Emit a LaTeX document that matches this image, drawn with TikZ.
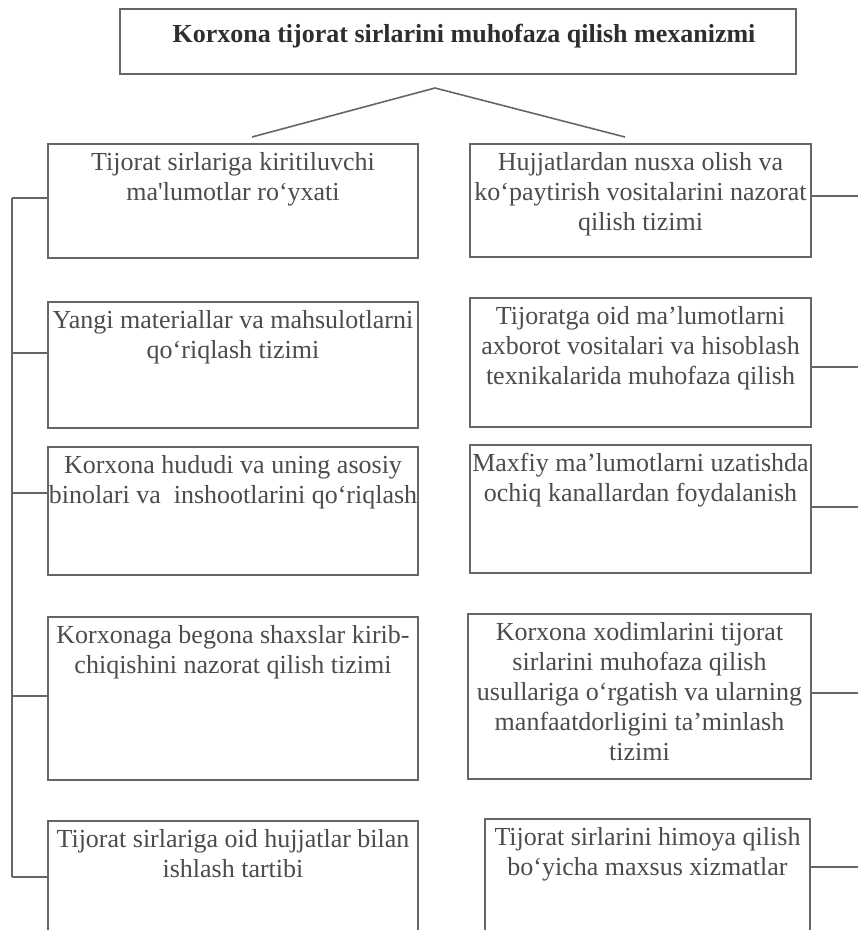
\documentclass[tikz,border=0pt]{standalone}
\usepackage{fontspec}
\setmainfont{Liberation Serif}
\definecolor{ln}{HTML}{666666}
\definecolor{tx}{HTML}{4C4C4C}
\definecolor{tt}{HTML}{2E2E2E}
\begin{document}
\begin{tikzpicture}[x=1pt,y=-1pt,
  box/.style={draw=ln, line width=1.6pt, rectangle, inner sep=0pt, outer sep=0pt},
  txt/.style={text=tx, align=center, inner sep=0pt, anchor=north,
              font=\fontsize{26}{30}\selectfont},
  conn/.style={draw=ln, line width=1.6pt}]
\useasboundingbox (0,0) rectangle (858,930);
\clip (0,0) rectangle (858,930);
\fill[white] (0,0) rectangle (858,930);

% title box
\node[box, minimum width=676pt, minimum height=65pt] (T) at (458,41.5) {};
\node[text=tt, inner sep=0pt, anchor=base, font=\fontsize{26}{30}\selectfont\bfseries]
  (tT) at (464,42) {Korxona tijorat sirlarini muhofaza qilish mexanizmi};

% roof
\coordinate (apex) at (435,88);
\coordinate (roofL) at (252,137);
\coordinate (roofR) at (625,137);
\draw[conn] (roofL) -- (apex) -- (roofR);

% left boxes
\node[box, minimum width=370pt, minimum height=114pt] (L1) at (233,201) {};
\node[box, minimum width=370pt, minimum height=126pt] (L2) at (233,365) {};
\node[box, minimum width=370pt, minimum height=128pt] (L3) at (233,511) {};
\node[box, minimum width=370pt, minimum height=163pt] (L4) at (233,698.5) {};
\node[box, minimum width=370pt, minimum height=124pt] (L5) at (233,883) {};

% right boxes
\node[box, minimum width=341pt, minimum height=113pt] (R1) at (640.5,200.5) {};
\node[box, minimum width=341pt, minimum height=129pt] (R2) at (640.5,362.5) {};
\node[box, minimum width=341pt, minimum height=128pt] (R3) at (640.5,509) {};
\node[box, minimum width=343pt, minimum height=165pt] (R4) at (639.5,696.5) {};
\node[box, minimum width=325pt, minimum height=126pt] (R5) at (647.5,882) {};

% texts
\node[txt] (tL1) at ([yshift=-8pt]L1.north) {Tijorat sirlariga kiritiluvchi\\ma\textquotesingle lumotlar ro‘yxati};
\node[txt] (tL2) at ([yshift=-8pt]L2.north) {Yangi materiallar va mahsulotlarni\\qo‘riqlash tizimi};
\node[txt] (tL3) at ([yshift=-8pt]L3.north) {Korxona hududi va uning asosiy\\binolari va\ \ inshootlarini qo‘riqlash};
\node[txt] (tL4) at ([yshift=-8pt]L4.north) {Korxonaga begona shaxslar kirib-\\chiqishini nazorat qilish tizimi};
\node[txt] (tL5) at ([yshift=-8pt]L5.north) {Tijorat sirlariga oid hujjatlar bilan\\ishlash tartibi};

\node[txt] (tR1) at ([yshift=-8pt]R1.north) {Hujjatlardan nusxa olish va\\ko‘paytirish vositalarini nazorat\\qilish tizimi};
\node[txt] (tR2) at ([yshift=-8pt]R2.north) {Tijoratga oid ma’lumotlarni\\axborot vositalari va hisoblash\\texnikalarida muhofaza qilish};
\node[txt] (tR3) at ([yshift=-8pt]R3.north) {Maxfiy ma’lumotlarni uzatishda\\ochiq kanallardan foydalanish};
\node[txt] (tR4) at ([yshift=-8pt]R4.north) {Korxona xodimlarini tijorat\\sirlarini muhofaza qilish\\usullariga o‘rgatish va ularning\\manfaatdorligini ta’minlash\\tizimi};
\node[txt] (tR5) at ([yshift=-8pt]R5.north) {Tijorat sirlarini himoya qilish\\bo‘yicha maxsus xizmatlar};

% left bus
\coordinate (lv1) at (12,198);
\coordinate (lv2) at (12,353);
\coordinate (lv3) at (12,493);
\coordinate (lv4) at (12,696);
\coordinate (lv5) at (12,877);
\draw[conn] (lv1) -- (lv5);
\foreach \i in {1,...,5} {\draw[conn] (lv\i) -- (lv\i -| L\i.west);}

% right ticks
\coordinate (rv1) at (858,196);
\coordinate (rv2) at (858,367);
\coordinate (rv3) at (858,507);
\coordinate (rv4) at (858,693);
\coordinate (rv5) at (858,867);
\foreach \i in {1,...,5} {\draw[conn] (rv\i -| R\i.east) -- (rv\i);}
\end{tikzpicture}
\end{document}
